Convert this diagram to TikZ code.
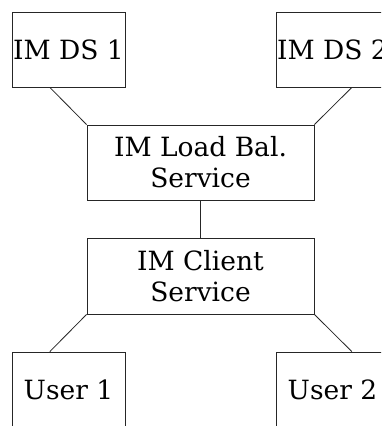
\documentclass[tikz,border=0pt]{standalone}
\usepackage{fontspec}
\setmainfont{DejaVu Serif}
\usetikzlibrary{calc}
\tikzset{
  box/.style={draw=black!85, line width=0.8pt, inner sep=0pt, align=center,
              font=\fontsize{26.5}{31}\selectfont},
  small/.style={box, minimum width=113pt, minimum height=75pt},
  wide/.style={box, minimum width=227pt, minimum height=75pt},
  link/.style={draw=black!85, line width=0.8pt}
}
\begin{document}
\begin{tikzpicture}[x=1pt,y=-1pt]
  \clip (0,0) rectangle (381,426);
  \fill[white] (0,0) rectangle (381,426);

  % data stores
  \node[small] (ds1) at (68.5,49.5) {IM DS 1};
  \node[small] (ds2) at (332.5,49.5) {IM DS 2};

  % services
  \node[wide] (lb) at (200.5,162.5) {IM Load Bal.\\Service};
  \node[wide, minimum height=76pt] (cs) at (200.5,276) {IM Client\\Service};

  % users
  \node[small] (u1) at (68.5,389.5) {User 1};
  \node[small] (u2) at (332.5,389.5) {User 2};

  % connectors
  \draw[link] ($(ds1.south west)!0.336!(ds1.south east)$) -- (lb.north west);
  \draw[link] ($(ds2.south west)!0.67!(ds2.south east)$) -- (lb.north east);
  \draw[link] (lb.south) -- (cs.north);
  \draw[link] (cs.south west) -- ($(u1.north west)!0.336!(u1.north east)$);
  \draw[link] (cs.south east) -- ($(u2.north west)!0.67!(u2.north east)$);
\end{tikzpicture}
\end{document}
